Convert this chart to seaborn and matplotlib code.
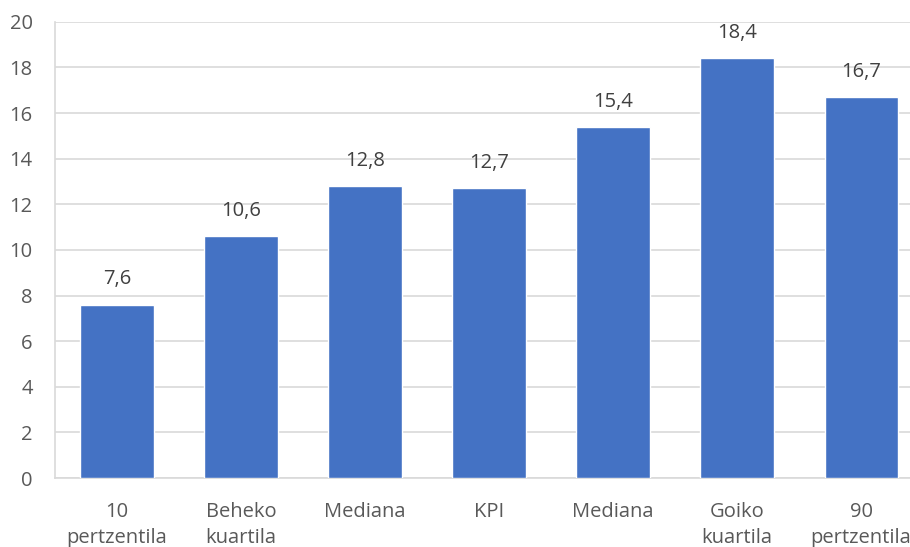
import matplotlib
matplotlib.use("Agg")
import matplotlib.pyplot as plt
import pandas as pd
import seaborn as sns

# data
categories = ["10\npertzentila", "Beheko\nkuartila", "Mediana", "KPI",
              "Mediana", "Goiko\nkuartila", "90\npertzentila"]
values = [7.6, 10.6, 12.8, 12.7, 15.4, 18.4, 16.7]
y_ticks = [0, 2, 4, 6, 8, 10, 12, 14, 16, 18, 20]

sns.set_theme(style="white")
plt.rcParams['font.family'] = ['Open Sans', 'DejaVu Sans']

# "Mediana" appears twice, so plot on positions and relabel afterwards
data = pd.DataFrame({"pos": range(len(values)), "value": values})

fig = plt.figure(figsize=(9.1, 5.47), dpi=100)
ax = fig.add_axes([0.0604, 0.126, 0.954, 0.834])

sns.barplot(data=data, x="pos", y="value", color="#4472C4", width=0.59,
            saturation=1, ax=ax, zorder=3)

text_col = "#595959"
ax.set_ylim(0, 20)
ax.set_yticks(y_ticks)
ax.set_xlim(-0.5, len(values) - 0.5)
ax.set_xticks(range(len(values)))
ax.set_xticklabels(categories)
ax.tick_params(axis="both", colors=text_col, labelsize=14.5, length=0)
ax.tick_params(axis="x", pad=17)
ax.tick_params(axis="y", pad=16)
for lbl in ax.get_xticklabels():
    lbl.set_linespacing(1.4)
ax.set_xlabel("")
ax.set_ylabel("")

ax.yaxis.grid(True, color="#D9D9D9", linewidth=1.2, zorder=0)
for side in ["top", "right"]:
    ax.spines[side].set_visible(False)
ax.spines["left"].set_color("#D9D9D9")
ax.spines["left"].set_linewidth(1.2)
ax.spines["bottom"].set_color("#D9D9D9")
ax.spines["bottom"].set_linewidth(1.2)

labels = [f"{v:.1f}".replace(".", ",") for v in values]
ax.bar_label(ax.containers[0], labels=labels, padding=11, fontsize=14.5,
             color="#404040")

fig.savefig("out.png", dpi=100)
